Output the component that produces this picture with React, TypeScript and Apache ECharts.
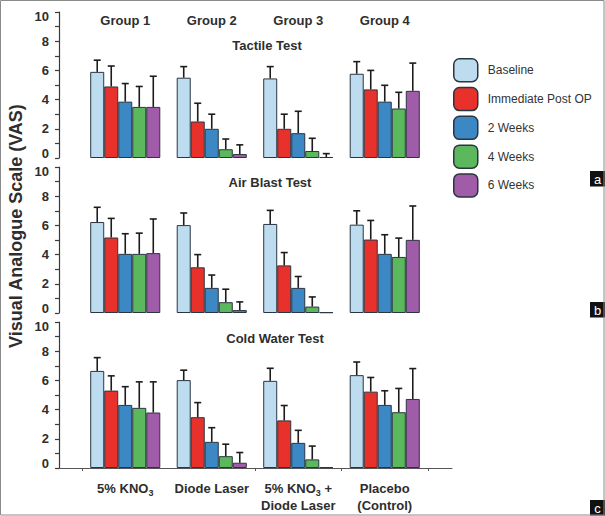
import React, { useEffect, useRef } from "react";
import * as echarts from "echarts";

const groupNames = ["Group 1", "Group 2", "Group 3", "Group 4"];
const treatments = ["5% KNO3", "Diode Laser", "5% KNO3 + Diode Laser", "Placebo (Control)"];
const treatmentLabels = ["5% KNO{s|3}", "Diode Laser", "5% KNO{s|3} +\nDiode Laser", "Placebo\n(Control)"];
const timepoints = ["Baseline", "Immediate Post OP", "2 Weeks", "4 Weeks", "6 Weeks"];
const testNames = ["Tactile Test", "Air Blast Test", "Cold Water Test"];
const panelLetters = ["a", "b", "c"];
const yAxisTitle = "Visual Analogue Scale (VAS)";

// rows = timepoints, columns = groups
const tactileMean = [
  [5.9, 5.5, 5.45, 5.77],
  [4.9, 2.5, 2.0, 4.7],
  [3.86, 2.0, 1.7, 3.86],
  [3.5, 0.6, 0.48, 3.39],
  [3.5, 0.27, 0.07, 4.6],
];
const tactileSD = [
  [0.8, 0.76, 0.81, 0.83],
  [1.4, 1.25, 1.0, 1.3],
  [1.24, 1.0, 1.5, 1.12],
  [1.4, 0.7, 0.87, 1.11],
  [2.1, 0.63, 0.23, 1.9],
];
const airMean = [
  [6.23, 6.02, 6.1, 6.05],
  [5.17, 3.13, 3.26, 5.03],
  [4.05, 1.72, 1.72, 4.05],
  [4.05, 0.74, 0.44, 3.84],
  [4.1, 0.2, 0.05, 5.01],
];
const airSD = [
  [1.01, 0.83, 0.93, 0.95],
  [1.31, 0.87, 0.88, 1.31],
  [1.38, 0.88, 0.78, 1.31],
  [1.42, 0.89, 0.66, 1.29],
  [2.34, 0.56, 0, 2.32],
];
const coldMean = [
  [6.65, 6.02, 5.97, 6.36],
  [5.3, 3.48, 3.26, 5.23],
  [4.32, 1.79, 1.72, 4.32],
  [4.12, 0.81, 0.59, 3.82],
  [3.8, 0.36, 0.05, 4.73],
];
const coldSD = [
  [0.91, 0.68, 0.86, 0.9],
  [1.01, 1.0, 1.02, 0.97],
  [1.25, 0.97, 0.86, 0.97],
  [1.78, 0.82, 0.91, 1.63],
  [2.1, 0.7, 0, 2.08],
];

const colors = ["#bddcef", "#e8312b", "#3b88c4", "#5cb85c", "#a05ca8"];
const FONT = "'Liberation Sans', Arial, sans-serif";
const TEXT = "#2e2e2e";
const BORDER = "#2a3542";

const panelTops = [12, 167, 322];
const panelHeight = 146;
const gridLeft = 82;
const gridWidth = 346;
const catGap = 0.19;

export default function App() {
  const ref = useRef<HTMLDivElement>(null);

  useEffect(() => {
    if (!ref.current) return;
    const chart = echarts.init(ref.current, null, { renderer: "svg" });
    const means = [tactileMean, airMean, coldMean];
    const sds = [tactileSD, airSD, coldSD];

    const grids: any[] = panelTops.map((t) => ({
      left: gridLeft,
      top: t,
      width: gridWidth,
      height: panelHeight,
      containLabel: false,
    }));
    grids.push({ left: 59, top: panelTops[2], width: 393, height: panelHeight });

    const xAxes: any[] = [0, 1, 2].map((p) => ({
      type: "category",
      gridIndex: p,
      data: treatments,
      show: p === 2,
      axisLine: { show: true, lineStyle: { color: "#555", width: 1 } },
      axisTick: { show: true, interval: 1, length: 3, lineStyle: { color: "#555" } },
      axisLabel: {
        show: true,
        interval: 0,
        margin: 12,
        fontSize: 13,
        fontWeight: "bold",
        color: TEXT,
        fontFamily: FONT,
        lineHeight: 17,
        formatter: (_v: string, i: number) => treatmentLabels[i],
        rich: {
          s: {
            fontSize: 9,
            fontWeight: "bold",
            color: TEXT,
            fontFamily: FONT,
            verticalAlign: "bottom",
            lineHeight: 10,
          },
        },
      },
      splitLine: { show: false },
    }));
    xAxes.push({
      type: "category",
      gridIndex: 0,
      position: "top",
      data: groupNames,
      axisLine: { show: false },
      axisTick: { show: false },
      axisLabel: {
        inside: true,
        margin: 2,
        fontSize: 13,
        fontWeight: "bold",
        color: TEXT,
        fontFamily: FONT,
      },
    });
    xAxes.push({
      type: "value",
      gridIndex: 3,
      min: 0,
      max: 1,
      axisLine: { show: true, lineStyle: { color: "#555", width: 1 } },
      axisTick: { show: false },
      axisLabel: { show: false },
      splitLine: { show: false },
    });

    const tickLabelStyle = { fontSize: 13, fontWeight: "bold", color: TEXT, fontFamily: FONT };
    const yAxes: any[] = [0, 1, 2].map((p) => ({
      type: "value",
      gridIndex: p,
      min: 0,
      max: 10,
      interval: 2,
      offset: 23,
      axisLine: { show: true, lineStyle: { color: "#3a3a3a", width: 1.2 } },
      axisTick: { show: true, length: 4, lineStyle: { color: "#3a3a3a", width: 1.2 } },
      minorTick: { show: true, splitNumber: 2, length: 4, lineStyle: { color: "#3a3a3a", width: 1.2 } },
      axisLabel: {
        margin: 10,
        ...tickLabelStyle,
        formatter: (v: number) => (v === 10 ? "{t|10}" : v === 0 ? "{b|0}" : String(v)),
        rich: {
          t: { ...tickLabelStyle, padding: [9, 0, 0, 0] },
          b: { ...tickLabelStyle, padding: [0, 0, 9, 0] },
        },
      },
      splitLine: { show: false },
    }));
    yAxes.push({ type: "value", gridIndex: 3, show: false, min: 0, max: 1 });

    const series: any[] = [];
    for (let p = 0; p < 3; p++) {
      for (let s = 0; s < 5; s++) {
        series.push({
          type: "bar",
          name: timepoints[s],
          xAxisIndex: p,
          yAxisIndex: p,
          data: means[p][s],
          barGap: "0%",
          barCategoryGap: catGap * 100 + "%",
          itemStyle: { color: colors[s], borderColor: BORDER, borderWidth: 1 },
          emphasis: { disabled: true },
        });
      }
      const errData: number[][] = [];
      for (let s = 0; s < 5; s++) {
        for (let g = 0; g < 4; g++) {
          errData.push([g, s, means[p][s][g], sds[p][s][g]]);
        }
      }
      series.push({
        type: "custom",
        name: "error-" + p,
        xAxisIndex: p,
        yAxisIndex: p,
        data: errData,
        encode: { x: 0, y: 2 },
        clip: false,
        z: 5,
        renderItem: (params: any, api: any) => {
          const g = api.value(0);
          const s = api.value(1);
          const m = api.value(2);
          const sd = api.value(3);
          if (!(sd > 0)) return { type: "group", children: [] };
          const base = api.coord([g, m]);
          const top = api.coord([g, m + sd]);
          const band = api.size([1, 0])[0];
          const bw = (band * (1 - catGap)) / 5;
          const x = base[0] + (s - 2) * bw;
          const st = { stroke: "#1c1c1c", lineWidth: 1.6 };
          return {
            type: "group",
            children: [
              { type: "line", shape: { x1: x, y1: base[1], x2: x, y2: top[1] }, style: st },
              { type: "line", shape: { x1: x - 3.5, y1: top[1], x2: x + 3.5, y2: top[1] }, style: st },
            ],
          };
        },
      });
    }

    const titlePos = [
      [267, 45],
      [270, 182],
      [275, 338],
    ];
    const letterTops = [171, 302, 500];

    const graphic: any[] = [
      {
        type: "rect",
        shape: { x: 0.5, y: 0.5, width: 603.5, height: 514.5 },
        style: { fill: "none", stroke: "#8a8a8a", lineWidth: 1 },
        z: 10,
      },
      {
        type: "text",
        x: 16,
        y: 226,
        rotation: Math.PI / 2,
        style: {
          text: yAxisTitle,
          fontSize: 18,
          fontWeight: "bold",
          fontFamily: FONT,
          fill: TEXT,
          textAlign: "center",
          textVerticalAlign: "middle",
        },
      },
    ];
    testNames.forEach((t, i) => {
      graphic.push({
        type: "text",
        x: titlePos[i][0],
        y: titlePos[i][1],
        style: {
          text: t,
          fontSize: 13,
          fontWeight: "bold",
          fontFamily: FONT,
          fill: TEXT,
          textAlign: "center",
          textVerticalAlign: "middle",
        },
      });
    });
    panelLetters.forEach((l, i) => {
      graphic.push({
        type: "group",
        children: [
          { type: "rect", shape: { x: 590, y: letterTops[i], width: 15, height: 15.5 }, style: { fill: "#111" } },
          {
            type: "text",
            x: 597.5,
            y: letterTops[i] + 8,
            style: {
              text: l,
              fontSize: 13,
              fontFamily: FONT,
              fill: "#fff",
              textAlign: "center",
              textVerticalAlign: "middle",
            },
          },
        ],
      });
    });

    chart.setOption({
      animation: false,
      backgroundColor: "#ffffff",
      textStyle: { fontFamily: FONT },
      grid: grids,
      xAxis: xAxes,
      yAxis: yAxes,
      legend: {
        data: timepoints,
        orient: "vertical",
        left: 448,
        top: 53,
        itemWidth: 24,
        itemHeight: 23,
        itemGap: 4.3,
        icon: "roundRect",
        selectedMode: false,
        itemStyle: { borderColor: BORDER, borderWidth: 1.5 },
        textStyle: { fontSize: 12, color: "#333", fontFamily: FONT, padding: [0, 0, 0, 5] },
      },
      series,
      graphic,
    });
    return () => chart.dispose();
  }, []);

  return (
    <div
      ref={ref}
      style={{ position: "absolute", left: 0, top: 0, width: 605, height: 516, background: "#fff" }}
    />
  );
}
